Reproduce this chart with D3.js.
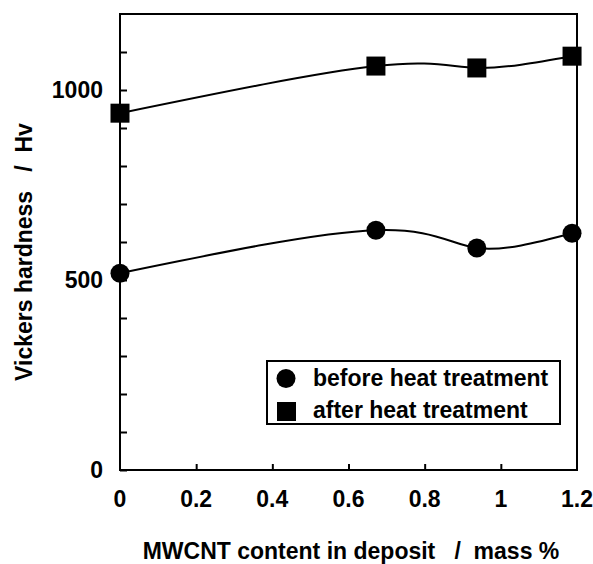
<!DOCTYPE html>
<html>
<head>
<meta charset="utf-8">
<script src="https://cdn.jsdelivr.net/npm/d3@7"></script>
<style>
  body { margin: 0; background: #fff; }
  text { font-family: "Liberation Sans", Arial, sans-serif; font-weight: bold; fill: #000; }
</style>
</head>
<body>
<svg id="chart" width="593" height="564"></svg>
<script>
  // MWCNT content (mass %)
  var mwcnt = [0, 0.672, 0.937, 1.187];
  var beforeHeat = [518, 631, 584, 623];
  var afterHeat = [939, 1063, 1058, 1089];
  var xTicks = [0, 0.2, 0.4, 0.6, 0.8, 1, 1.2];
  var yTicks = [0, 500, 1000];
  var yMinor = [100, 200, 300, 400, 600, 700, 800, 900, 1100];
  var legendLabels = ['before heat treatment', 'after heat treatment'];

  var svg = d3.select('#chart'),
    pLeft = 120,
    pRight = 577,
    pTop = 14,
    pBottom = 470,
    fs = 23;

  var x = d3.scaleLinear().domain([0, 1.2]).range([pLeft, pRight]);
  var y = d3.scaleLinear().domain([0, 1200]).range([pBottom, pTop]);

  // frame
  svg.append('rect')
    .attr('x', pLeft).attr('y', pTop)
    .attr('width', pRight - pLeft).attr('height', pBottom - pTop)
    .attr('fill', 'none').attr('stroke', '#000').attr('stroke-width', 2);

  // inward ticks
  var yAxis = svg.append('g')
    .attr('transform', 'translate(' + pLeft + ',0)')
    .call(d3.axisLeft(y).tickValues(yTicks.concat(yMinor)).tickSize(-7).tickFormat(''));
  var xAxis = svg.append('g')
    .attr('transform', 'translate(0,' + pBottom + ')')
    .call(d3.axisBottom(x).tickValues(xTicks.slice(1, -1)).tickSize(-6).tickFormat(''));
  [xAxis, yAxis].forEach(function (g) {
    g.select('.domain').remove();
    g.selectAll('line').attr('stroke', '#000').attr('stroke-width', 2);
  });

  // tick labels
  svg.selectAll('.ylab').data(yTicks).enter().append('text')
    .attr('class', 'ylab')
    .attr('x', 103).attr('y', function (d) { return y(d) + 8; })
    .attr('text-anchor', 'end').attr('font-size', fs)
    .text(function (d) { return d; });

  svg.selectAll('.xlab').data(xTicks).enter().append('text')
    .attr('class', 'xlab')
    .attr('x', function (d) { return x(d); }).attr('y', 507)
    .attr('text-anchor', 'middle').attr('font-size', fs)
    .text(function (d) { return d; });

  // axis titles
  svg.append('text')
    .attr('x', 351).attr('y', 559)
    .attr('text-anchor', 'middle').attr('font-size', fs)
    .attr('xml:space', 'preserve')
    .text('MWCNT content in deposit   /  mass %');

  svg.append('text')
    .attr('transform', 'translate(32,252) rotate(-90)')
    .attr('text-anchor', 'middle').attr('font-size', fs)
    .attr('xml:space', 'preserve')
    .text('Vickers hardness   /  Hv');

  // curves
  var line = d3.line()
    .x(function (d) { return x(d[0]); })
    .y(function (d) { return y(d[1]); })
    .curve(d3.curveNatural);

  [beforeHeat, afterHeat].forEach(function (vals) {
    svg.append('path')
      .datum(d3.zip(mwcnt, vals))
      .attr('d', line)
      .attr('fill', 'none').attr('stroke', '#000').attr('stroke-width', 2);
  });

  // markers
  svg.selectAll('.dot').data(d3.zip(mwcnt, beforeHeat)).enter().append('circle')
    .attr('cx', function (d) { return x(d[0]); })
    .attr('cy', function (d) { return y(d[1]); })
    .attr('r', 9.5).attr('fill', '#000');

  svg.selectAll('.sq').data(d3.zip(mwcnt, afterHeat)).enter().append('rect')
    .attr('x', function (d) { return x(d[0]) - 9.5; })
    .attr('y', function (d) { return y(d[1]) - 9.5; })
    .attr('width', 19).attr('height', 19).attr('fill', '#000');

  // legend
  var lg = svg.append('g').attr('transform', 'translate(267,361)');
  lg.append('rect')
    .attr('width', 293).attr('height', 63)
    .attr('fill', '#fff').attr('stroke', '#000').attr('stroke-width', 2);
  lg.append('circle').attr('cx', 19).attr('cy', 17.5).attr('r', 9.5).attr('fill', '#000');
  lg.append('rect').attr('x', 10).attr('y', 41).attr('width', 19).attr('height', 19).attr('fill', '#000');
  lg.selectAll('.lt').data(legendLabels).enter().append('text')
    .attr('x', 46).attr('y', function (d, i) { return 25 + i * 32; })
    .attr('font-size', fs)
    .text(function (d) { return d; });
</script>
</body>
</html>
